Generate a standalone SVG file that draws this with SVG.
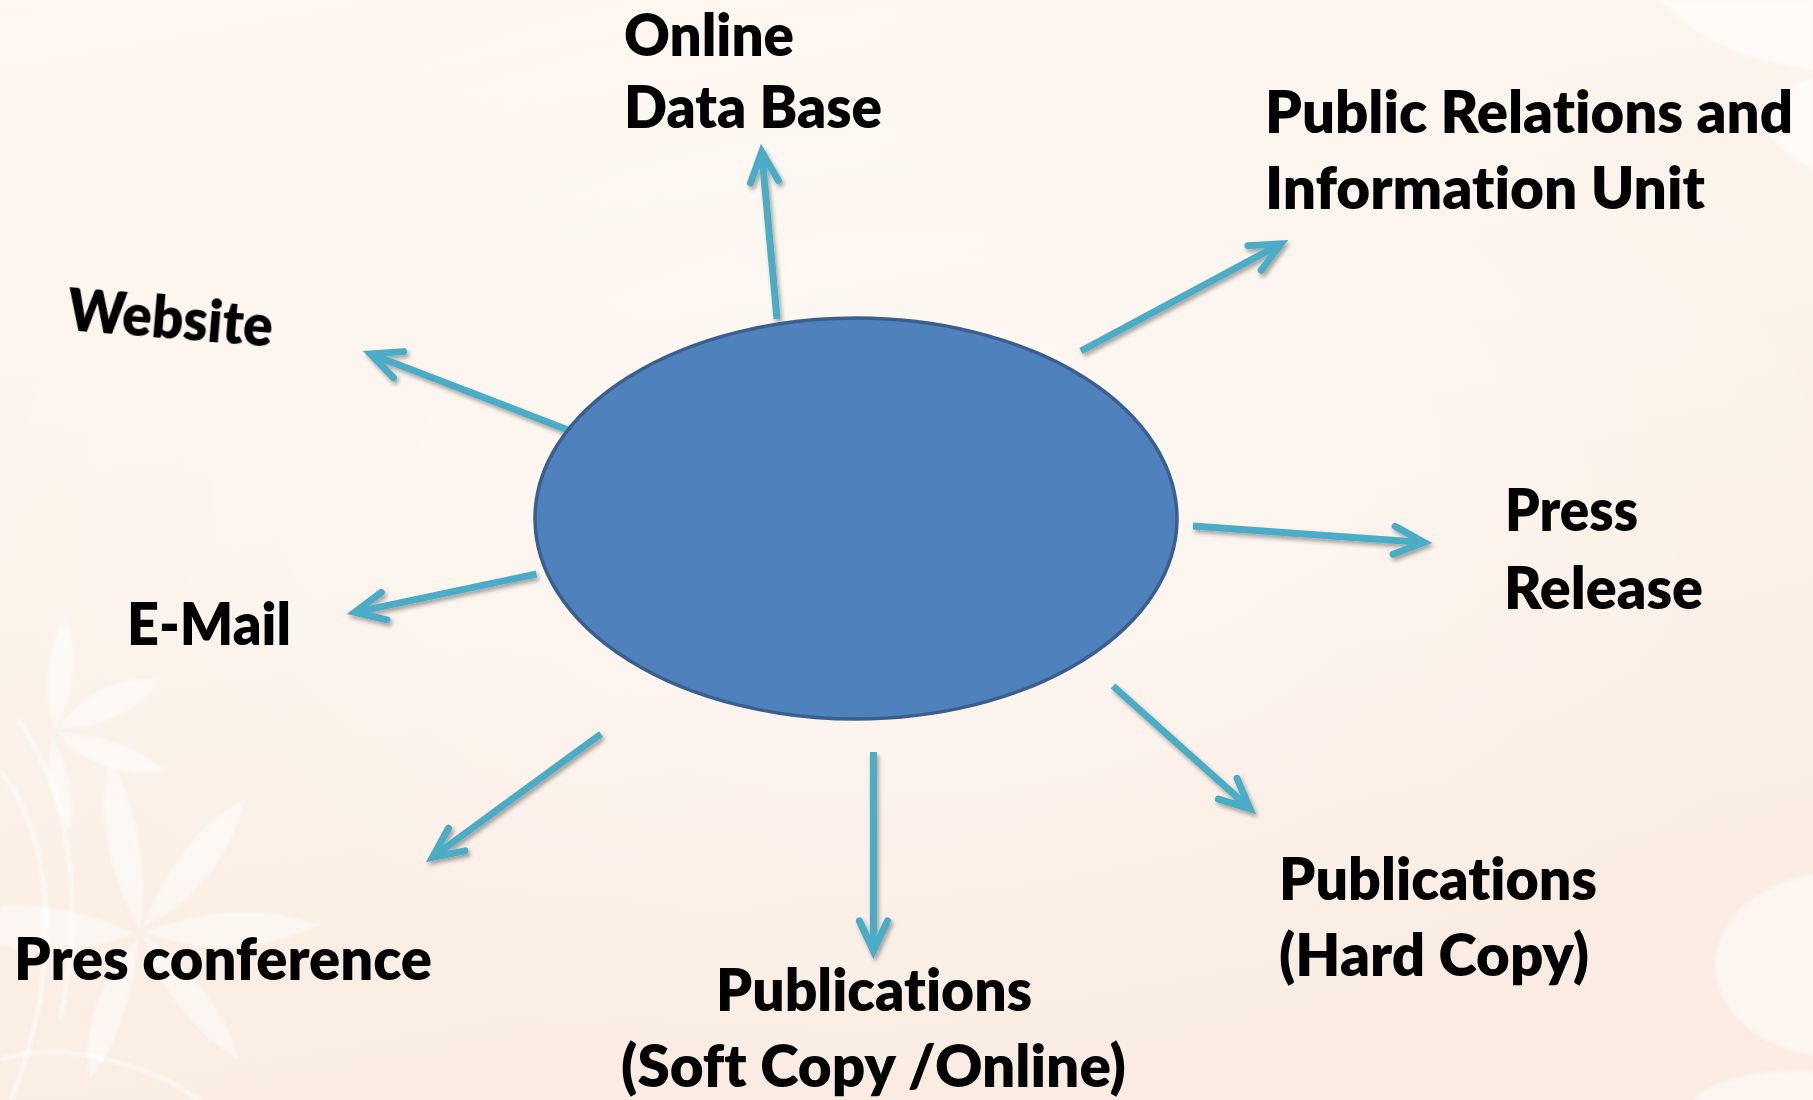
<svg xmlns="http://www.w3.org/2000/svg" width="1813" height="1100" viewBox="0 0 1813 1100">
<defs>
<linearGradient id="bg" x1="0" y1="0" x2="0.3" y2="1">
<stop offset="0" stop-color="#FDF8F0"/>
<stop offset="0.5" stop-color="#FCF3EA"/>
<stop offset="1" stop-color="#FAECE2"/>
</linearGradient>
<radialGradient id="glow" cx="0.5" cy="0.45" r="0.55">
<stop offset="0" stop-color="#FFFFFF" stop-opacity="0.45"/>
<stop offset="1" stop-color="#FFFFFF" stop-opacity="0"/>
</radialGradient>
<filter id="shadow" x="-20%" y="-20%" width="140%" height="140%">
<feGaussianBlur in="SourceAlpha" stdDeviation="2"/>
<feOffset dx="2" dy="3" result="o"/>
<feComponentTransfer><feFuncA type="linear" slope="0.35"/></feComponentTransfer>
<feMerge><feMergeNode/><feMergeNode in="SourceGraphic"/></feMerge>
</filter>
<filter id="soft"><feGaussianBlur stdDeviation="1.5"/></filter>
<marker id="ah" markerUnits="userSpaceOnUse" viewBox="-45 -25 60 50" refX="0" refY="0" markerWidth="60" markerHeight="50" orient="auto" overflow="visible">
<path d="M-30,-14 L0,0 L-30,14" fill="none" stroke="#4BACC6" stroke-width="7" stroke-linecap="round" stroke-linejoin="miter"/>
</marker>
<style>
.lbl{font-family:"Lato","Open Sans","Liberation Sans",sans-serif;font-weight:800;font-size:58px;fill:#000000;font-variant-ligatures:none;}
.con{fill:none;stroke:#4BACC6;stroke-width:7;stroke-linecap:butt;marker-end:url(#ah);}
.deco{fill:#FFFFFF;opacity:0.5;}
.decoline{fill:none;stroke:#FFFFFF;opacity:0.55;stroke-width:5;}
</style>
</defs>

<!-- background -->
<rect x="0" y="0" width="1813" height="1100" fill="url(#bg)"/>
<rect x="0" y="0" width="1813" height="1100" fill="url(#glow)"/>
<g id="decoration" filter="url(#soft)">
<path class="decoline" d="M0,770 C40,820 55,900 40,1000 C30,1050 20,1080 10,1100"/>
<path class="decoline" d="M18,720 C70,790 85,900 60,1020"/>
<path class="decoline" d="M0,1060 C60,1040 140,1060 200,1100"/>
<path class="deco" d="M55,730 C40,690 50,640 65,615 C80,650 75,700 55,730 Z"/>
<path class="deco" d="M58,728 C85,690 120,675 160,680 C140,710 100,730 58,728 Z"/>
<path class="deco" d="M56,732 C100,735 135,745 165,770 C125,780 85,765 56,732 Z"/>
<path class="deco" d="M52,735 C70,770 75,800 70,830 C50,805 45,770 52,735 Z"/>
<path class="deco" d="M140,930 C110,880 95,810 110,760 C135,800 150,870 140,930 Z"/>
<path class="deco" d="M142,928 C165,870 200,820 245,800 C230,860 190,905 142,928 Z"/>
<path class="deco" d="M145,932 C200,910 260,905 320,925 C270,950 200,955 145,932 Z"/>
<path class="deco" d="M144,936 C190,965 225,1010 240,1060 C195,1035 160,990 144,936 Z"/>
<path class="deco" d="M138,938 C135,990 120,1040 90,1080 C80,1030 100,980 138,938 Z"/>
<path class="deco" d="M134,934 C90,950 40,955 0,945 L0,905 C45,905 95,912 134,934 Z"/>
<ellipse class="deco" cx="1835" cy="965" rx="120" ry="92" opacity="0.8"/>
<ellipse class="deco" cx="1800" cy="1110" rx="110" ry="40" opacity="0.7"/>
<path class="deco" d="M1660,0 C1700,40 1740,60 1813,70 L1813,0 Z" opacity="0.4"/>
<path class="deco" d="M1760,120 C1780,90 1800,80 1813,78 L1813,170 C1795,160 1770,145 1760,120 Z" opacity="0.35"/>
</g>

<!-- connectors -->
<g id="connectors" filter="url(#shadow)">
<line class="con" x1="777" y1="319" x2="761.7" y2="152"/>
<line class="con" x1="1081" y1="351" x2="1281" y2="243.8"/>
<line class="con" x1="568" y1="430" x2="370.5" y2="353.9"/>
<line class="con" x1="1193" y1="526" x2="1424" y2="542.4"/>
<line class="con" x1="536.5" y1="574" x2="354.8" y2="612.3"/>
<line class="con" x1="601" y1="734" x2="432.5" y2="857.3"/>
<line class="con" x1="873.4" y1="752" x2="873.4" y2="951"/>
<line class="con" x1="1113" y1="686" x2="1250" y2="808.7"/>
</g>

<!-- center node -->
<g id="center">
<ellipse cx="856" cy="518.5" rx="321" ry="200.5" fill="#4F81BD" stroke="#3A5F8F" stroke-width="3.5"/>
</g>

<!-- label nodes -->
<g id="online-database">
<text class="lbl" x="624" y="56" font-size="57" textLength="170" lengthAdjust="spacingAndGlyphs">Online</text>
<text class="lbl" x="624" y="128" textLength="258" lengthAdjust="spacingAndGlyphs">Data Base</text>
</g>
<g id="public-relations">
<text class="lbl" x="1265" y="133" textLength="528" lengthAdjust="spacingAndGlyphs">Public Relations and</text>
<text class="lbl" x="1265" y="209" textLength="440" lengthAdjust="spacingAndGlyphs">Information Unit</text>
</g>
<g id="website">
<text class="lbl" x="66" y="330" textLength="206" lengthAdjust="spacingAndGlyphs" transform="rotate(4.7 66 330)">Website</text>
</g>
<g id="press-release">
<text class="lbl" x="1505" y="531" textLength="133" lengthAdjust="spacingAndGlyphs">Press</text>
<text class="lbl" x="1504" y="609" textLength="199" lengthAdjust="spacingAndGlyphs">Release</text>
</g>
<g id="email">
<text class="lbl" x="127" y="645" textLength="164" lengthAdjust="spacingAndGlyphs">E-Mail</text>
</g>
<g id="pres-conference">
<text class="lbl" x="14" y="980" textLength="418" lengthAdjust="spacingAndGlyphs">Pres conference</text>
</g>
<g id="publications-soft">
<text class="lbl" x="716" y="1011" textLength="316" lengthAdjust="spacingAndGlyphs">Publications</text>
<text class="lbl" x="621" y="1087" textLength="505" lengthAdjust="spacingAndGlyphs">(Soft Copy /Online)</text>
</g>
<g id="publications-hard">
<text class="lbl" x="1279" y="900" textLength="318" lengthAdjust="spacingAndGlyphs">Publications</text>
<text class="lbl" x="1279" y="976" textLength="310" lengthAdjust="spacingAndGlyphs">(Hard Copy)</text>
</g>
</svg>
